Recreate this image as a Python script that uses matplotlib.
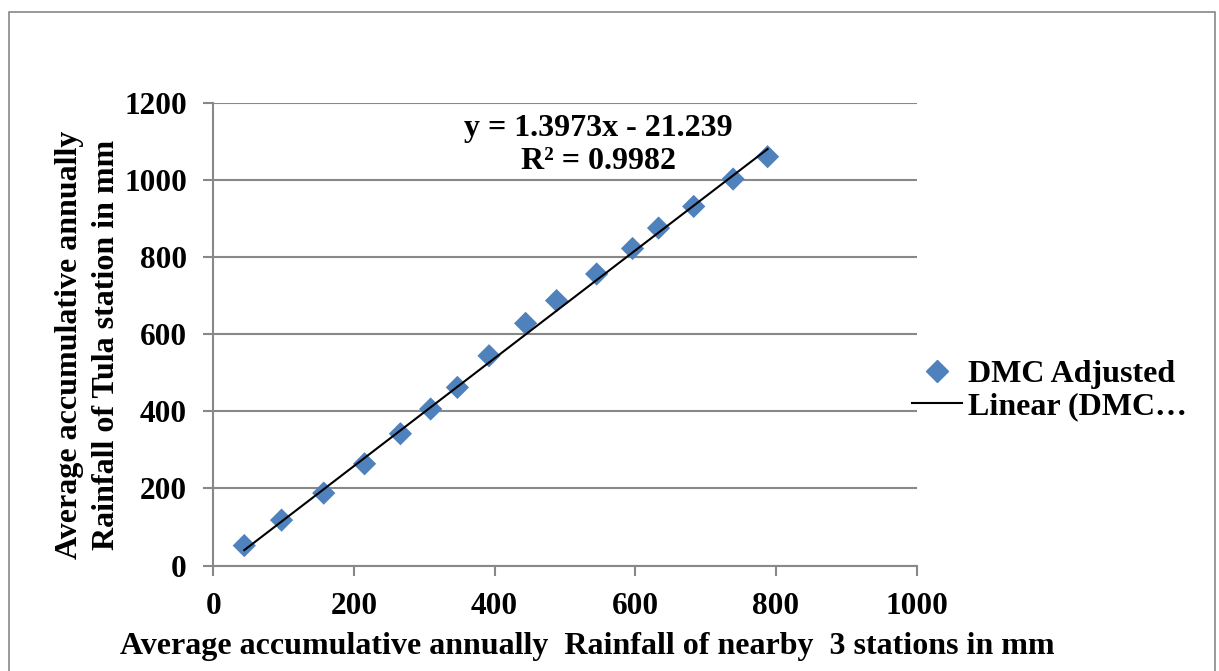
import numpy as np
import matplotlib
matplotlib.use("Agg")
import matplotlib.pyplot as plt
from matplotlib.lines import Line2D
from matplotlib.patches import Rectangle

# data
nearby_mm = [44, 97, 157, 215, 266, 309, 347, 392, 444, 488, 545, 596, 633, 683, 739, 788]
tula_mm = [52, 118, 188, 264, 342, 406, 462, 544, 628, 687, 756, 822, 875, 931, 1002, 1060]
slope = 1.3973
intercept = -21.239
r2 = 0.9982
x_ticks = [0, 200, 400, 600, 800, 1000]
y_ticks = [0, 200, 400, 600, 800, 1000, 1200]

plt.rcParams["font.family"] = ["Liberation Serif", "DejaVu Serif"]
plt.rcParams["font.weight"] = "bold"

fig = plt.figure(figsize=(12.19, 6.71), dpi=100)
ax = fig.add_axes([0.175, 0.157, 0.577, 0.690])

# outer chart border
fig.patches.append(Rectangle((9 / 1219, -0.05), 1206 / 1219, 1 - 12 / 671 + 0.05,
                             transform=fig.transFigure, fill=False,
                             edgecolor="#888888", linewidth=1.2))

ax.scatter(nearby_mm, tula_mm, marker="D", s=140, color="#4F81BD",
           edgecolors="none", zorder=3)
xs = np.array([nearby_mm[0], nearby_mm[-1]])
ax.plot(xs, slope * xs + intercept, color="black", linewidth=1.5, zorder=4)

ax.set_xlim(0, 1000)
ax.set_ylim(0, 1200)
ax.set_xticks(x_ticks)
ax.set_yticks(y_ticks)
ax.grid(axis="y", color="#888888", linewidth=1.5)
ax.set_axisbelow(True)
for s in ["top", "right"]:
    ax.spines[s].set_visible(False)
for s in ["left", "bottom"]:
    ax.spines[s].set_color("#888888")
    ax.spines[s].set_linewidth(1.5)
ax.tick_params(direction="out", length=7, width=1.5, color="#888888",
               labelsize=22.5)
ax.tick_params(axis="x", pad=12)
ax.tick_params(axis="y", pad=12)
for lab in ax.get_xticklabels() + ax.get_yticklabels():
    lab.set_fontweight("bold")

fig.text(0.482, 0.036,
         "Average accumulative annually  Rainfall of nearby  3 stations in mm",
         ha="center", va="center", fontsize=23, fontweight="bold")
fig.text(88 / 1219, 0.486,
         "Average accumulative annually\nRainfall of Tula station in mm",
         ha="center", va="center", rotation=90, fontsize=23, fontweight="bold",
         linespacing=1.4)

ax.text(548, 1090, "y = 1.3973x - 21.239\nR² = 0.9982", ha="center", va="center",
        fontsize=23, fontweight="bold", linespacing=1.15)

handles = [Line2D([], [], marker="D", linestyle="none", color="#4F81BD",
                  markersize=11, label="DMC Adjusted"),
           Line2D([], [], color="black", linewidth=1.5, label="Linear (DMC…")]
fig.legend(handles=handles, loc="center left", bbox_to_anchor=(0.748, 0.418),
           frameon=False, handlelength=1.56, handletextpad=0.2,
           borderpad=0, borderaxespad=0, labelspacing=0.1,
           prop={"weight": "bold", "size": 23})

fig.savefig("out.png", dpi=100)
